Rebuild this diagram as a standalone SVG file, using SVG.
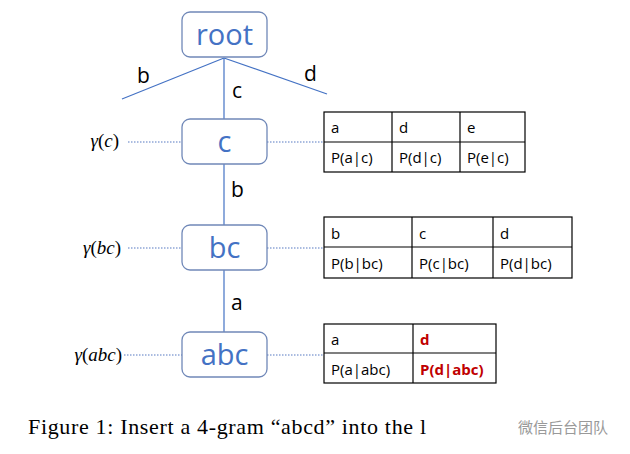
<svg xmlns="http://www.w3.org/2000/svg" width="630" height="454" viewBox="0 0 630 454">
<style>
.box{fill:#fff;stroke:#7088b8;stroke-width:1.3}
.nt{font-family:"Open Sans","Liberation Sans",sans-serif;font-size:29px;fill:#4472C4;text-anchor:middle}
.edge{stroke:#4472C4;stroke-width:1.2;fill:none}
.el{font-family:"Open Sans","Liberation Sans",sans-serif;font-size:21px;fill:#000}
.dot{stroke:#8fa6d6;stroke-width:1.3;stroke-dasharray:1.5 1.5;fill:none}
.tb{fill:none;stroke:#000;stroke-width:1.2}
.tt{font-family:"Open Sans","Liberation Sans",sans-serif;font-size:15px;fill:#000}
.red{fill:#C00000;font-weight:bold}
.g{font-family:"Liberation Serif",serif;font-size:19px;fill:#000}
.cap{font-family:"Liberation Serif",serif;font-size:22px;fill:#000}
</style>
<g id="connectors">
<line class="edge" x1="224" y1="58" x2="122" y2="99"/>
<line class="edge" x1="224" y1="58" x2="327" y2="94"/>
<line class="edge" x1="224" y1="58" x2="224" y2="119"/>
<line class="edge" x1="224" y1="164" x2="224" y2="225"/>
<line class="edge" x1="224" y1="270" x2="224" y2="332"/>
<text class="el" x="137" y="83">b</text>
<text class="el" x="232" y="98">c</text>
<text class="el" x="304" y="81">d</text>
<text class="el" x="231" y="197">b</text>
<text class="el" x="231" y="310">a</text>
<line class="dot" x1="128" y1="142" x2="182" y2="142"/>
<line class="dot" x1="267" y1="142" x2="324" y2="142"/>
<line class="dot" x1="128" y1="248" x2="182" y2="248"/>
<line class="dot" x1="267" y1="248" x2="324" y2="248"/>
<line class="dot" x1="124" y1="355" x2="182" y2="355"/>
<line class="dot" x1="267" y1="355" x2="324" y2="355"/>
</g>
<g id="root">
<rect class="box" x="182" y="12" width="85" height="45" rx="8"/>
<text class="nt" x="224.5" y="45">root</text>
</g>
<g id="c">
<rect class="box" x="182" y="119" width="85" height="45" rx="8"/>
<text class="nt" x="224.5" y="152">c</text>
<text class="g" x="119" y="147" text-anchor="end"><tspan font-style="italic">γ</tspan>(<tspan font-style="italic">c</tspan>)</text>
</g>
<g id="bc">
<rect class="box" x="182" y="225" width="85" height="45" rx="8"/>
<text class="nt" x="224.5" y="258">bc</text>
<text class="g" x="121" y="254" text-anchor="end"><tspan font-style="italic">γ</tspan>(<tspan font-style="italic">bc</tspan>)</text>
</g>
<g id="abc">
<rect class="box" x="182" y="332" width="85" height="45" rx="8"/>
<text class="nt" x="224.5" y="365">abc</text>
<text class="g" x="122" y="361" text-anchor="end"><tspan font-style="italic">γ</tspan>(<tspan font-style="italic">abc</tspan>)</text>
</g>
<g id="table-c">
<rect class="tb" x="324" y="112" width="201" height="60"/>
<line class="tb" x1="324" y1="142" x2="525" y2="142"/>
<line class="tb" x1="392" y1="112" x2="392" y2="172"/>
<line class="tb" x1="460" y1="112" x2="460" y2="172"/>
<text class="tt" x="331" y="133">a</text>
<text class="tt" x="399" y="133">d</text>
<text class="tt" x="467" y="133">e</text>
<text class="tt" x="331" y="163">P(a|c)</text>
<text class="tt" x="399" y="163">P(d|c)</text>
<text class="tt" x="467" y="163">P(e|c)</text>
</g>
<g id="table-bc">
<rect class="tb" x="324" y="217" width="248" height="61"/>
<line class="tb" x1="324" y1="247" x2="572" y2="247"/>
<line class="tb" x1="412" y1="217" x2="412" y2="278"/>
<line class="tb" x1="493" y1="217" x2="493" y2="278"/>
<text class="tt" x="331" y="239">b</text>
<text class="tt" x="419" y="239">c</text>
<text class="tt" x="500" y="239">d</text>
<text class="tt" x="331" y="269">P(b|bc)</text>
<text class="tt" x="419" y="269">P(c|bc)</text>
<text class="tt" x="500" y="269">P(d|bc)</text>
</g>
<g id="table-abc">
<rect class="tb" x="324" y="324" width="172" height="59"/>
<line class="tb" x1="324" y1="353" x2="496" y2="353"/>
<line class="tb" x1="413" y1="324" x2="413" y2="383"/>
<text class="tt" x="331" y="345">a</text>
<text class="tt red" x="420" y="345">d</text>
<text class="tt" x="331" y="375">P(a|abc)</text>
<text class="tt red" x="420" y="375">P(d|abc)</text>
</g>
<g id="caption">
<text class="cap" x="28" y="434" textLength="398" lengthAdjust="spacing">Figure 1: Insert a 4-gram “abcd” into the l</text>
<text x="518" y="433" font-family="'Noto Sans CJK SC',sans-serif" font-size="15" fill="#888" opacity="0.85">微信后台团队</text>
</g>
</svg>
